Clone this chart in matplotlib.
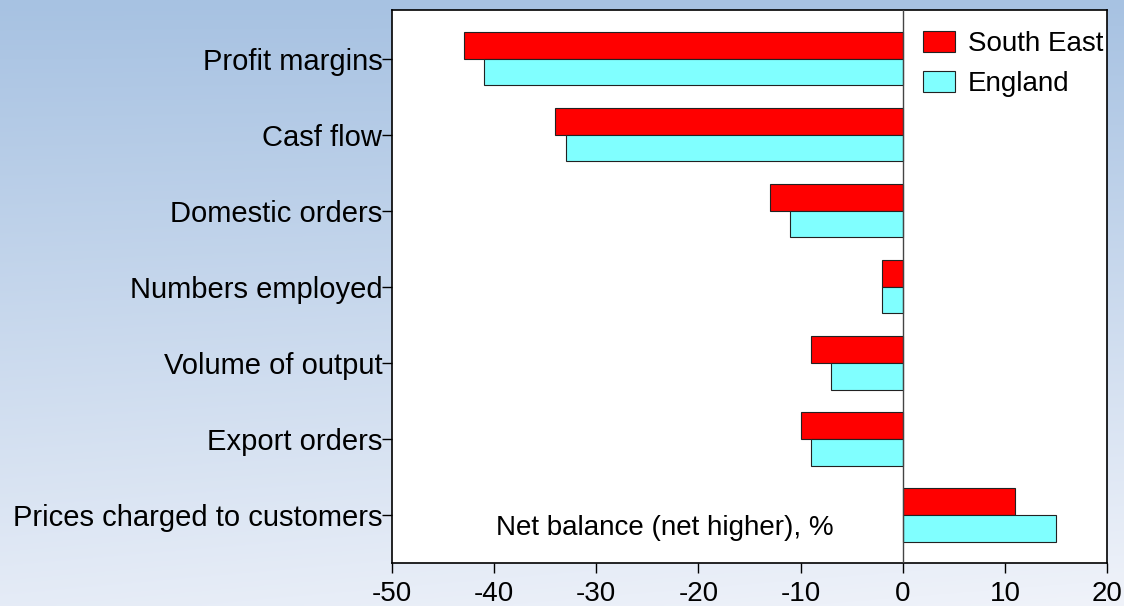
import numpy as np
import matplotlib
matplotlib.use('Agg')
import matplotlib.pyplot as plt

plt.rcParams['font.family'] = ['Liberation Sans', 'DejaVu Sans']
plt.rcParams['axes.unicode_minus'] = False

# survey data (net balance, %)
categories = ['Profit margins', 'Casf flow', 'Domestic orders', 'Numbers employed',
              'Volume of output', 'Export orders', 'Prices charged to customers']
south_east = [-43, -34, -13, -2, -9, -10, 11]
england = [-41, -33, -11, -2, -7, -9, 15]
series_names = ['South East', 'England']

red = '#FF0000'
cyan = '#80FFFF'

fig = plt.figure(figsize=(11.24, 6.06), dpi=100)

# background gradient (blue at top -> almost white at bottom)
bg = fig.add_axes([0, 0, 1, 1], zorder=0)
top = np.array([167, 194, 226]) / 255
bottom = np.array([240, 243, 250]) / 255
t = np.linspace(0, 1, 256)[:, None]
xx = np.linspace(0, 1, 256)[None, :]
mix = np.clip(t * 0.85 + xx * 0.15 * t, 0, 1)
grad = top[None, None, :] * (1 - mix[..., None]) + bottom[None, None, :] * mix[..., None]
bg.imshow(grad, aspect='auto', extent=[0, 1, 0, 1], origin='upper')
bg.axis('off')

ax = fig.add_axes([0.3488, 0.0710, 0.6361, 0.9125], zorder=1)
ax.set_facecolor('white')

y = np.arange(len(categories))
h = 0.35
ax.barh(y - h / 2, south_east, height=h, color=red, edgecolor='#222222', linewidth=0.8,
        label=series_names[0], zorder=2)
ax.barh(y + h / 2, england, height=h, color=cyan, edgecolor='#222222', linewidth=0.8,
        label=series_names[1], zorder=2)

ax.axvline(0, color='#444444', linewidth=1, zorder=3)

ax.set_xlim(-50, 20)
ax.set_ylim(len(categories) - 0.37, -0.64)
ax.set_xticks(range(-50, 21, 10))
ax.set_yticks(y)
ax.set_yticklabels(categories)
ax.tick_params(axis='both', direction='out', length=7, width=1)
ax.tick_params(axis='x', labelsize=20, pad=6)
ax.tick_params(axis='y', labelsize=21, pad=0)

for s in ax.spines.values():
    s.set_linewidth(1.2)
    s.set_color('black')

ax.text(0.382, 0.063, 'Net balance (net higher), %', transform=ax.transAxes,
        ha='center', va='center', fontsize=20)

ax.legend(loc='upper left', bbox_to_anchor=(0.743, 0.962), frameon=False,
          fontsize=20, handlelength=1.15, handleheight=0.8, handletextpad=0.45,
          labelspacing=0.5, borderaxespad=0, borderpad=0)

fig.savefig('out.png', dpi=100)
